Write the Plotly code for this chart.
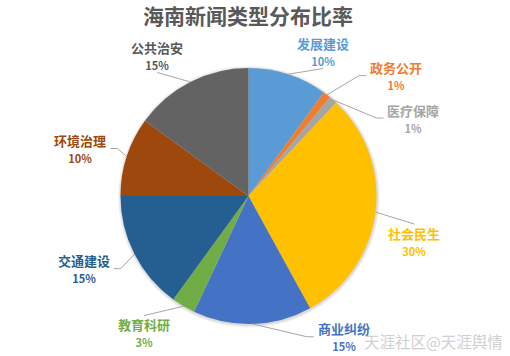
import math
import plotly.graph_objects as go

# ---- data ----
categories = ["发展建设", "政务公开", "医疗保障", "社会民生", "商业纠纷",
              "教育科研", "交通建设", "环境治理", "公共治安"]
shares = [10, 1, 1, 30, 15, 3, 15, 10, 15]
colors = ["#5B9BD5", "#ED7D31", "#A5A5A5", "#FFC000", "#4472C4",
          "#70AD47", "#255E91", "#9E480E", "#636363"]
label_colors = ["#5B9BD5", "#ED7D31", "#A5A5A5", "#FFC000", "#4472C4",
                "#70AD47", "#255E91", "#9E480E", "#595959"]
title_text = "海南新闻类型分布比率"
watermark = "天涯社区@天涯舆情"

# ---- layout params ----
W, H = 510, 356
CX, CY, R = 248.5, 196.0, 128.0
# label placement: angular nudge (deg) from slice mid-angle and distance from centre (px)
label_nudge = [9.3, 13, 23.3, 8, -32.3, 6.8, 3.2, -2.2, -6]
label_dist = [162.6, 190.5, 182.5, 172, 170, 172, 180, 174.6, 167.5]
BOX_HW, BOX_HH = 27, 17


def px(x):
    return x / W


def py(y):
    return 1 - y / H


fig = go.Figure(go.Pie(
    values=shares, labels=categories, sort=False, direction="clockwise",
    rotation=0, marker=dict(colors=colors, line=dict(width=0)),
    textinfo="none", showlegend=False, hoverinfo="label+percent",
    domain=dict(x=[px(CX - R), px(CX + R)], y=[py(CY + R), py(CY - R)]),
))

total = sum(shares)
annotations = []
shapes = []

# soft shadow halo behind the pie
for extra, alpha in [(3.0, 0.04), (2.0, 0.05), (1.0, 0.06)]:
    r = R + extra
    shapes.append(dict(type="circle", xref="paper", yref="paper", layer="below",
                       x0=px(CX - r + 0.5), x1=px(CX + r + 0.5),
                       y0=py(CY + r + 0.8), y1=py(CY - r + 0.8),
                       fillcolor=f"rgba(0,0,0,{alpha})", line=dict(width=0)))

cum = 0.0
for i, (cat, v) in enumerate(zip(categories, shares)):
    start = cum / total * 360
    cum += v
    end = cum / total * 360
    mid = (start + end) / 2
    la = math.radians(mid + label_nudge[i])
    lx = CX + label_dist[i] * math.sin(la)
    ly = CY - label_dist[i] * math.cos(la)
    pct = round(v / total * 100)
    annotations.append(dict(
        x=px(lx), y=py(ly), xref="paper", yref="paper",
        xanchor="center", yanchor="middle", showarrow=False,
        text=f"<b>{cat}</b><br><span style='font-size:11px'><b>{pct}%</b></span>",
        font=dict(family="Noto Sans CJK SC", size=13, color=label_colors[i]),
        align="center",
    ))
    # leader line
    ma = math.radians(mid)
    ex = CX + R * math.sin(ma)
    ey = CY - R * math.cos(ma)
    hgap = max(lx - BOX_HW - ex, ex - (lx + BOX_HW), 0)
    vgap = max(ly - BOX_HH - ey, ey - (ly + BOX_HH), 0)
    if vgap > 0 and hgap < 15:
        ty = ly + BOX_HH if ey > ly else ly - BOX_HH
        pts = [(ex, ey), (lx, ty)]
    else:
        sgn = 1 if lx > ex else -1
        endx = lx - sgn * (BOX_HW + 3)
        pts = [(ex, ey), (endx - sgn * 7, ly), (endx, ly)]
    path = "M " + " L ".join(f"{px(a):.5f},{py(b):.5f}" for a, b in pts)
    shapes.append(dict(type="path", xref="paper", yref="paper", path=path,
                       line=dict(color="#A6A6A6", width=1)))

annotations.append(dict(
    x=px(248), y=py(15), xref="paper", yref="paper", showarrow=False,
    xanchor="center", yanchor="middle",
    text=f"<b>{title_text}</b>",
    font=dict(family="Noto Sans CJK SC", size=21, color="#595959"),
))
annotations.append(dict(
    x=px(505), y=py(341), xref="paper", yref="paper", showarrow=False,
    xanchor="right", yanchor="middle", text=watermark,
    font=dict(family="Noto Sans CJK SC", size=15.5, color="#D0D0D0"),
))

fig.update_layout(
    width=W, height=H, margin=dict(l=0, r=0, t=0, b=0),
    paper_bgcolor="white", plot_bgcolor="white",
    annotations=annotations, shapes=shapes,
)
fig.write_html("out.html", config={"displayModeBar": False},
               post_script="document.body.style.margin='0';document.body.style.overflow='hidden';")
